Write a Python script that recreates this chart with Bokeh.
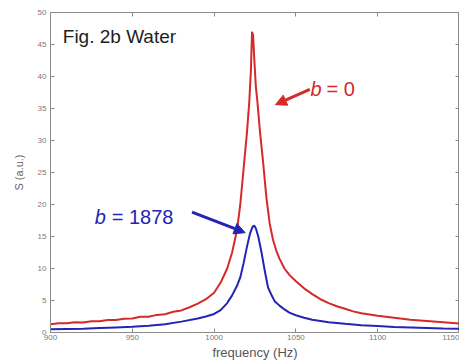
from bokeh.plotting import figure
from bokeh.models import Range1d, LinearAxis, Label, Arrow, NormalHead, FixedTicker
from bokeh.embed import file_html
from bokeh.resources import INLINE

# ---- data ----
freq_red = [900, 905, 910, 915, 920, 925, 930, 935, 940, 945, 950, 955, 960, 965, 970,
            975, 980, 985, 990, 995, 1000, 1004, 1008, 1011, 1014, 1016, 1018, 1020,
            1021.5, 1022.5, 1023.2, 1023.8, 1024.5, 1025.5, 1026.5, 1028, 1030, 1032,
            1034, 1036, 1038, 1040, 1043, 1046, 1050, 1055, 1060, 1065, 1070, 1075,
            1080, 1085, 1090, 1095, 1100, 1110, 1120, 1130, 1140, 1150]
s_red = [1.3, 1.45, 1.45, 1.6, 1.55, 1.75, 1.75, 1.95, 1.95, 2.15, 2.2, 2.45, 2.45, 2.75, 2.85,
         3.25, 3.45, 3.95, 4.5, 5.2, 6.2, 7.8, 10.0, 12.5, 16.0, 20.0, 25.5, 31.0,
         36.0, 41.0, 47.0, 46.5, 43.0, 38.5, 36.0, 31.5, 26.5, 21.0,
         17.0, 14.5, 12.8, 11.5, 10.0, 9.0, 8.0, 6.9, 6.0, 5.2, 4.6, 4.1,
         3.7, 3.3, 3.0, 2.8, 2.6, 2.3, 2.0, 1.8, 1.6, 1.4]

freq_blue = [900, 910, 920, 930, 940, 950, 960, 970, 980, 990, 995, 1000, 1004, 1008,
             1011, 1014, 1016, 1018, 1020, 1022, 1023.5, 1024.5, 1025.5, 1027, 1029,
             1031, 1033, 1035, 1037, 1040, 1043, 1046, 1050, 1055, 1060, 1070, 1080,
             1090, 1100, 1110, 1120, 1130, 1140, 1150]
s_blue = [0.5, 0.55, 0.6, 0.7, 0.8, 0.9, 1.05, 1.3, 1.7, 2.2, 2.5, 2.9, 3.5, 4.6,
          5.8, 7.3, 8.6, 10.8, 13.3, 15.5, 16.5, 16.7, 16.3, 15.0, 12.5,
          9.6, 7.0, 5.9, 4.9, 4.2, 3.6, 3.1, 2.7, 2.3, 2.0, 1.6, 1.35,
          1.15, 1.0, 0.85, 0.78, 0.7, 0.62, 0.58]

x_ticks = [900, 950, 1000, 1050, 1100, 1150]
y_ticks = [0, 5, 10, 15, 20, 25, 30, 35, 40, 45, 50]

RED = "#d42a2a"
BLUE = "#2424b4"
GRAY = "#8a8a8a"

p = figure(width=459, height=362, output_backend="svg", toolbar_location=None,
           x_range=Range1d(900, 1150), y_range=Range1d(0, 50),
           min_border_left=50, min_border_right=0, min_border_top=12, min_border_bottom=30)
p.grid.visible = False
p.outline_line_color = GRAY
p.background_fill_color = "white"
p.border_fill_color = "white"

p.line(freq_red, s_red, line_color=RED, line_width=2)
p.line(freq_blue, s_blue, line_color=BLUE, line_width=2)

def style_axis(ax, show_labels=True):
    ax.axis_line_color = GRAY
    ax.major_tick_line_color = GRAY
    ax.major_tick_in = 4
    ax.major_tick_out = 0
    ax.minor_tick_line_color = None
    ax.major_label_text_color = "#7a7a7a"
    ax.major_label_text_font = "Liberation Sans"
    ax.major_label_text_font_size = "8px"
    ax.major_label_standoff = 2
    if not show_labels:
        ax.major_label_overrides = {t: "" for t in ax.ticker.ticks}
        ax.major_label_standoff = 0

xa = p.xaxis[0]
xa.ticker = FixedTicker(ticks=x_ticks)
style_axis(xa)
xa.axis_label = "frequency (Hz)"
xa.axis_label_text_font = "Liberation Sans"
xa.axis_label_text_font_style = "normal"
xa.axis_label_text_font_size = "13px"
xa.axis_label_text_color = "#555555"
xa.axis_label_standoff = 2

ya = p.yaxis[0]
ya.ticker = FixedTicker(ticks=y_ticks)
style_axis(ya)
ya.major_label_standoff = 4
ya.axis_label = "S (a.u.)"
ya.axis_label_text_font = "Liberation Sans"
ya.axis_label_text_font_style = "normal"
ya.axis_label_text_font_size = "11px"
ya.axis_label_text_color = "#666666"
ya.axis_label_standoff = 10

top = LinearAxis(ticker=FixedTicker(ticks=x_ticks))
style_axis(top, False)
p.add_layout(top, "above")
right = LinearAxis(ticker=FixedTicker(ticks=y_ticks))
style_axis(right, False)
p.add_layout(right, "right")

# ---- annotations ----
p.add_layout(Label(x=907.5, y=46.3, text="Fig. 2b Water", text_font="Liberation Sans",
                   text_font_size="19px", text_color="#1e1e1e", text_baseline="middle"))

p.add_layout(Label(x=1059.0, y=38.0, text="b", text_font="Liberation Sans", text_font_style="italic",
                   text_font_size="20px", text_color=RED, text_baseline="middle"))
p.add_layout(Label(x=1059.0, y=38.0, x_offset=16, text="= 0", text_font="Liberation Sans",
                   text_font_size="20px", text_color=RED, text_baseline="middle"))
p.add_layout(Arrow(x_start=1058.5, y_start=38.0, x_end=1037.5, y_end=35.6, line_color=RED,
                   line_width=3,
                   end=NormalHead(size=11, fill_color=RED, line_color=RED)))

p.add_layout(Label(x=927.0, y=18.0, text="b", text_font="Liberation Sans", text_font_style="italic",
                   text_font_size="20px", text_color=BLUE, text_baseline="middle"))
p.add_layout(Label(x=927.0, y=18.0, x_offset=17, text="= 1878", text_font="Liberation Sans",
                   text_font_size="20px", text_color=BLUE, text_baseline="middle"))
p.add_layout(Arrow(x_start=986.5, y_start=18.8, x_end=1019.0, y_end=15.6, line_color=BLUE,
                   line_width=3,
                   end=NormalHead(size=11, fill_color=BLUE, line_color=BLUE)))

open("out.html", "w").write(file_html(p, INLINE))
